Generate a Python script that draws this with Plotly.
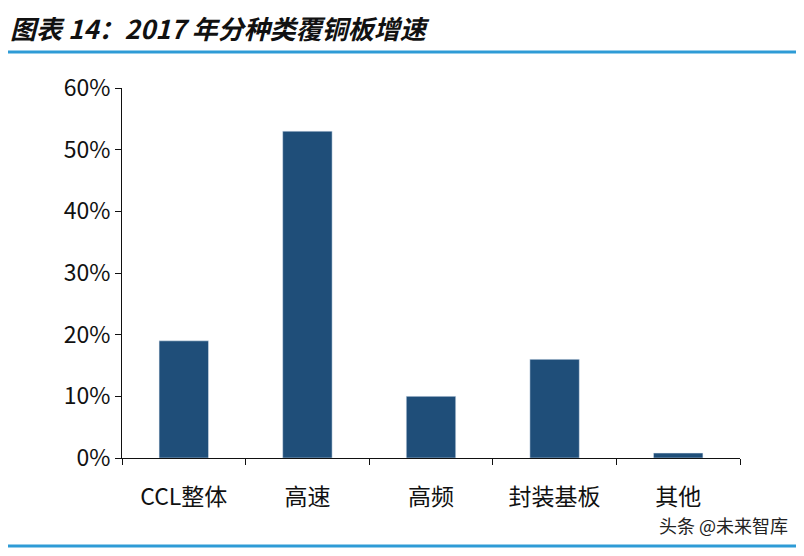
import plotly.graph_objects as go

categories = ["CCL整体", "高速", "高频", "封装基板", "其他"]
growth = [0.19, 0.53, 0.10, 0.16, 0.008]
font = "Noto Sans CJK SC"

fig = go.Figure(go.Bar(x=categories, y=growth, marker_color="#1F4E79", width=0.4))

fig.update_layout(
    width=804, height=556,
    margin=dict(l=114, r=72, t=80, b=106),
    plot_bgcolor="white", paper_bgcolor="white",
    showlegend=False,
    font=dict(family=font, size=23, color="#111"),
)
fig.update_yaxes(range=[0, 0.6], dtick=0.1, tickformat=".0%", showgrid=False,
                 showline=True, linecolor="#111", linewidth=1,
                 ticks="outside", ticklen=6, tickcolor="#111", zeroline=False)
fig.update_xaxes(showline=True, linecolor="#111", linewidth=1, showgrid=False,
                 ticks="outside", ticklen=6, tickcolor="#111", tickson="boundaries",
                 ticklabelstandoff=18)

W, H = 618, 370
fig.add_annotation(text="<b><i>图表 14：2017 年分种类覆铜板增速</i></b>", xref="paper", yref="paper",
                   x=-114/W, y=1 + 60/H, xanchor="left", yanchor="middle",
                   showarrow=False, font=dict(size=26, color="#111"))
fig.add_shape(type="line", xref="paper", yref="paper", x0=-114/W, x1=1 + 72/W,
              y0=1 + 36/H, y1=1 + 36/H, line=dict(color="#2E9BD6", width=3))
fig.add_shape(type="line", xref="paper", yref="paper", x0=-114/W, x1=1 + 72/W,
              y0=-88/H, y1=-88/H, line=dict(color="#2E9BD6", width=3))
fig.add_annotation(text="头条 @未来智库", xref="paper", yref="paper",
                   x=1 + 50/W, y=-67/H, xanchor="right", yanchor="middle",
                   showarrow=False, font=dict(size=18, color="#222"))

fig.write_html("out.html")
